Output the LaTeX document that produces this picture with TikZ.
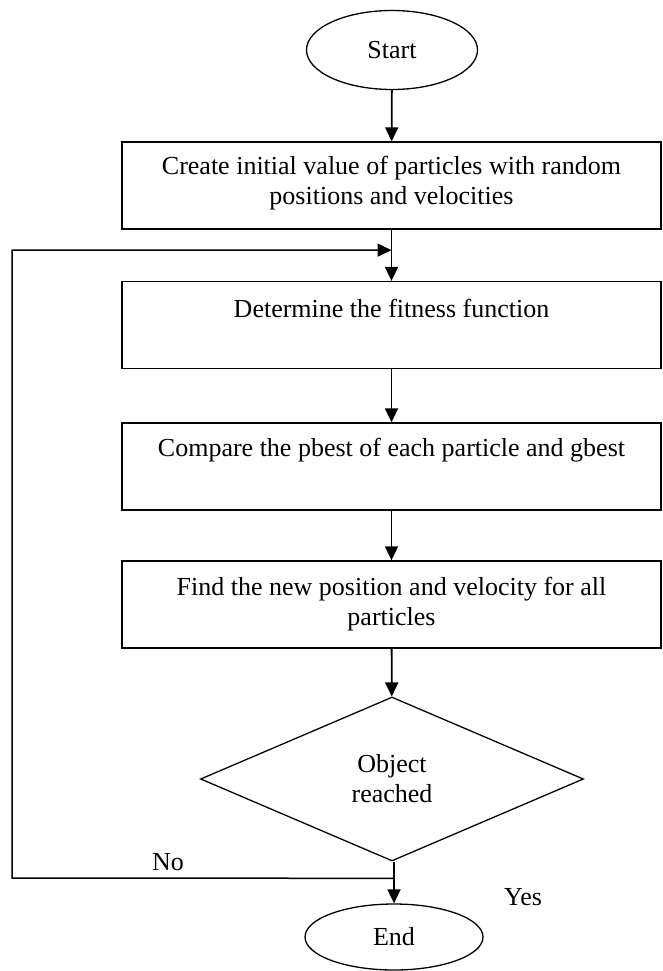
\documentclass[tikz,border=0pt]{standalone}
\usepackage{fontspec}
\setmainfont{Liberation Serif}
\usetikzlibrary{shapes.geometric,arrows.meta,positioning,calc}

\tikzset{
  flow/.style={-{Triangle[length=14pt,width=13pt]}, line width=1.8pt},
  procbox/.style={draw, line width=1.3pt, rectangle, minimum width=539pt, minimum height=87pt, inner sep=0pt},
  term/.style={draw, line width=1.3pt, ellipse, inner sep=0pt},
  decide/.style={draw, line width=1.3pt, diamond, align=center, minimum width=383pt, minimum height=164pt, inner sep=0pt},
  boxtext/.style={align=center, inner sep=0pt},
}

\begin{document}
\begin{tikzpicture}[x=1pt,y=-1pt,font=\fontsize{26}{30}\selectfont]
  \useasboundingbox (0,0) rectangle (662,971);

  \node[term, minimum width=171pt, minimum height=79pt] (start) at (392,50) {Start};

  \node[procbox] (init) at (391.5,185.5) {};
  \node[boxtext] (initlbl) at (391.5,183) {Create initial value of particles with random\\positions and velocities};

  \node[procbox] (fit) at (391.5,325) {};
  \node[boxtext] (fitlbl) at (391.5,308) {Determine the fitness function};

  \node[procbox] (cmp) at (391.5,466.5) {};
  \node[boxtext] (cmplbl) at (391.5,450) {Compare the pbest of each particle and gbest};

  \node[procbox] (upd) at (391.5,604.5) {};
  \node[boxtext] (updlbl) at (391.5,604) {Find the new position and velocity for all\\particles};

  \node[decide] (dec) at (392,779) {Object\\reached};

  \node[term, minimum width=178pt, minimum height=66pt] (end) at (394,937) {End};

  \node (nolbl) at (168,862) {No};
  \node (yeslbl) at (523,897) {Yes};

  % main flow
  \draw[flow] (start) -- (init);
  \draw[flow] (init) -- (fit);
  \draw[flow] (fit) -- (cmp);
  \draw[flow] (cmp) -- (upd);
  \draw[flow] (upd) -- (dec);
  \draw[flow] (dec.south -| end.north) -- (end.north);

  % back to the fitness step
  \coordinate (nobend) at (12,878);
  \coordinate (merge) at ($(init.south)!0.4!(fit.north)$);
  \draw[flow, line width=1.5pt] ($(dec.south -| end.north)!0.4!(end.north)$) -- (nobend) |- (merge);
\end{tikzpicture}
\end{document}
